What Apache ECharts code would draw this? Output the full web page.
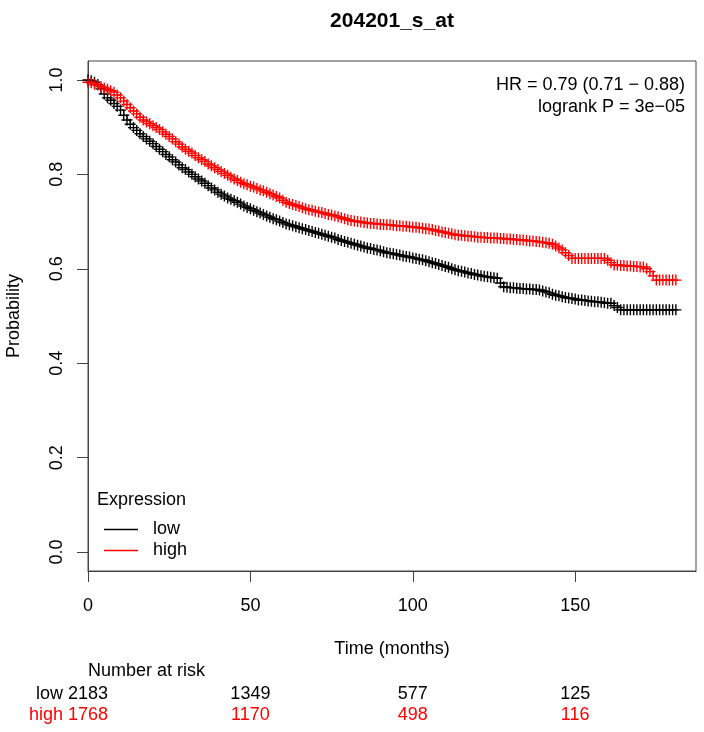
<!DOCTYPE html>
<html>
<head>
<meta charset="utf-8">
<script src="https://cdn.jsdelivr.net/npm/echarts@6/dist/echarts.min.js"></script>
<style>
html,body{margin:0;padding:0;background:#fff;}
#chart{width:704px;height:732px;}
</style>
</head>
<body>
<div id="chart"></div>
<script>
const chartTitle = '204201_s_at';
const groupNames = ['low', 'high'];
const groupColors = ['#000000', '#ff0000'];
const xTicks = [0, 50, 100, 150];
const yTicks = [0, 0.2, 0.4, 0.6, 0.8, 1.0];
const statLines = ['HR = 0.79 (0.71 \u2212 0.88)', 'logrank P = 3e\u221205'];
const riskTimes = [0, 50, 100, 150];
const riskLow = [2183, 1349, 577, 125];
const riskHigh = [1768, 1170, 498, 116];

const months = [0,1,2,3,4,5,6,7,8,9,10,11,12,13,14,15,16,17,18,19,20,21,22,23,24,25,26,27,28,29,
30,31,32,33,34,35,36,37,38,39,40,41,42,43,44,45,46,47,48,49,50,51,52,53,54,55,56,57,58,59,
60,61,62,63,64,65,66,67,68,69,70,71,72,73,74,75,76,77,78,79,80,81,82,83,84,85,86,87,88,89,
90,91,92,93,94,95,96,97,98,99,100,101,102,103,104,105,106,107,108,109,110,111,112,113,114,115,116,117,118,119,
120,121,122,123,124,125,126,127,128,129,130,131,132,133,134,135,136,137,138,139,140,141,142,143,144,145,146,147,148,149,
150,151,152,153,154,155,156,157,158,159,160,161,162,163,164,165,166,167,168,169,170,171,172,173,174,175,176,177,178,179,180,181];

const lowSurv = [
1.000,0.998,0.995,0.990,0.981,0.970,0.962,0.957,0.950,0.944,
0.936,0.925,0.915,0.906,0.899,0.893,0.886,0.880,0.875,0.870,
0.865,0.859,0.853,0.848,0.842,0.837,0.831,0.826,0.820,0.814,
0.810,0.805,0.800,0.795,0.790,0.786,0.781,0.776,0.771,0.767,
0.762,0.758,0.754,0.750,0.747,0.744,0.741,0.737,0.733,0.730,
0.727,0.724,0.721,0.718,0.715,0.712,0.709,0.706,0.704,0.701,
0.698,0.695,0.693,0.691,0.689,0.687,0.685,0.683,0.681,0.679,
0.677,0.675,0.673,0.671,0.669,0.667,0.665,0.662,0.660,0.658,
0.656,0.654,0.652,0.650,0.648,0.646,0.644,0.643,0.641,0.640,
0.638,0.636,0.634,0.633,0.632,0.630,0.629,0.627,0.626,0.625,
0.623,0.622,0.620,0.619,0.617,0.615,0.613,0.611,0.609,0.607,
0.605,0.603,0.600,0.598,0.596,0.595,0.593,0.591,0.590,0.588,
0.587,0.585,0.584,0.583,0.582,0.581,0.580,0.570,0.562,0.561,
0.560,0.560,0.559,0.558,0.558,0.557,0.557,0.556,0.556,0.555,
0.553,0.551,0.549,0.546,0.544,0.543,0.541,0.539,0.538,0.537,
0.536,0.534,0.534,0.533,0.532,0.531,0.530,0.530,0.529,0.528,
0.527,0.527,0.522,0.518,0.513,0.513,0.513,0.513,0.513,0.513,
0.513,0.513,0.513,0.513,0.513,0.513,0.513,0.513,0.513,0.513,
0.513,0.513];

const highSurv = [
0.995,0.994,0.991,0.989,0.986,0.983,0.980,0.977,0.974,0.968,
0.962,0.955,0.948,0.941,0.934,0.928,0.921,0.915,0.911,0.907,
0.903,0.899,0.895,0.890,0.885,0.880,0.875,0.869,0.864,0.858,
0.853,0.849,0.845,0.840,0.835,0.831,0.827,0.822,0.818,0.814,
0.810,0.806,0.802,0.798,0.794,0.790,0.787,0.783,0.780,0.778,
0.775,0.773,0.770,0.767,0.765,0.762,0.759,0.756,0.753,0.750,
0.745,0.741,0.738,0.736,0.734,0.732,0.729,0.727,0.725,0.724,
0.722,0.720,0.719,0.717,0.715,0.714,0.712,0.710,0.708,0.706,
0.704,0.702,0.701,0.700,0.699,0.698,0.697,0.696,0.696,0.695,
0.694,0.694,0.693,0.693,0.692,0.691,0.691,0.690,0.690,0.689,
0.688,0.688,0.687,0.686,0.685,0.684,0.683,0.681,0.680,0.678,
0.677,0.675,0.674,0.672,0.671,0.671,0.670,0.669,0.669,0.668,
0.667,0.667,0.666,0.666,0.665,0.665,0.665,0.664,0.664,0.663,
0.663,0.662,0.662,0.661,0.661,0.660,0.659,0.659,0.658,0.657,
0.656,0.655,0.654,0.652,0.648,0.644,0.640,0.634,0.628,0.622,
0.622,0.622,0.622,0.622,0.622,0.622,0.622,0.622,0.622,0.622,
0.618,0.613,0.608,0.608,0.607,0.607,0.606,0.606,0.605,0.605,
0.604,0.604,0.600,0.594,0.585,0.576,0.576,0.576,0.576,0.576,
0.576,0.576];

const FONT = '"Liberation Sans", Arial, Helvetica, sans-serif';
const PLUS = 'path://M4.8,0H6.2V4.8H11V6.2H6.2V11H4.8V6.2H0V4.8H4.8Z';

const chart = echarts.init(document.getElementById('chart'), null, {renderer: 'canvas'});

function kmSeries(name, surv, color) {
  return {
    name: name,
    type: 'line',
    step: 'end',
    data: months.map((t, i) => [t, surv[i]]),
    color: color,
    lineStyle: {color: color, width: 1},
    itemStyle: {color: color},
    symbol: PLUS,
    symbolSize: 11,
    showSymbol: true,
    showAllSymbol: true,
    emphasis: {disabled: true},
    z: name === 'high' ? 3 : 2
  };
}

const option = {
  animation: false,
  backgroundColor: '#ffffff',
  textStyle: {fontFamily: FONT},
  title: {
    text: chartTitle,
    left: 387,
    top: 6,
    textAlign: 'center',
    textStyle: {fontFamily: FONT, fontSize: 21, fontWeight: 'bold', color: '#000'}
  },
  grid: {
    left: 88, top: 61, width: 608, height: 510,
    outerBoundsMode: 'none',
    containLabel: false,
    show: true, borderColor: '#444', borderWidth: 1, backgroundColor: 'transparent'
  },
  xAxis: {
    type: 'value',
    min: 0, max: 187.2,
    name: 'Time (months)',
    nameLocation: 'middle',
    nameGap: 69,
    nameTextStyle: {fontFamily: FONT, fontSize: 18, color: '#000'},
    axisLine: {show: true, onZero: false, lineStyle: {color: '#444', width: 1}},
    axisTick: {show: true, inside: false, length: 11, customValues: xTicks, lineStyle: {color: '#444'}},
    axisLabel: {show: true, customValues: xTicks, margin: 26, fontFamily: FONT, fontSize: 18, color: '#000'},
    splitLine: {show: false}
  },
  yAxis: {
    type: 'value',
    min: -0.04, max: 1.04,
    name: 'Probability',
    nameLocation: 'middle',
    nameGap: 65,
    nameRotate: 90,
    nameTextStyle: {fontFamily: FONT, fontSize: 18, color: '#000'},
    axisLine: {show: true, onZero: false, lineStyle: {color: '#444', width: 1}},
    axisTick: {show: true, inside: false, length: 11, customValues: yTicks, lineStyle: {color: '#444'}},
    axisLabel: {
      show: true, customValues: yTicks, rotate: 90, margin: 22,
      fontFamily: FONT, fontSize: 18, color: '#000',
      formatter: v => v.toFixed(1)
    },
    splitLine: {show: false}
  },
  legend: {
    data: groupNames.map((n, i) => ({name: n, itemStyle: {color: groupColors[i]}})),
    orient: 'vertical',
    left: 99,
    top: 514,
    icon: 'rect',
    itemWidth: 34,
    itemHeight: 1.5,
    itemGap: 0,
    selectedMode: false,
    textStyle: {fontFamily: FONT, fontSize: 18, color: '#000', lineHeight: 21, padding: [0, 0, 0, 10]}
  },
  series: [
    kmSeries(groupNames[0], lowSurv, groupColors[0]),
    kmSeries(groupNames[1], highSurv, groupColors[1])
  ]
};
chart.setOption(option);

const graphics = [];
graphics.push({type: 'text', x: 685, y: 85, style: {text: statLines[0], fontFamily: FONT, fontSize: 18, fill: '#000', align: 'right', verticalAlign: 'middle'}});
graphics.push({type: 'text', x: 685, y: 107, style: {text: statLines[1], fontFamily: FONT, fontSize: 18, fill: '#000', align: 'right', verticalAlign: 'middle'}});
graphics.push({type: 'text', x: 97, y: 500, style: {text: 'Expression', fontFamily: FONT, fontSize: 18, fill: '#000', align: 'left', verticalAlign: 'middle'}});
graphics.push({type: 'text', x: 88, y: 671, style: {text: 'Number at risk', fontFamily: FONT, fontSize: 18, fill: '#000', align: 'left', verticalAlign: 'middle'}});
graphics.push({type: 'text', x: 63, y: 694, style: {text: groupNames[0], fontFamily: FONT, fontSize: 18, fill: groupColors[0], align: 'right', verticalAlign: 'middle'}});
graphics.push({type: 'text', x: 63, y: 715, style: {text: groupNames[1], fontFamily: FONT, fontSize: 18, fill: groupColors[1], align: 'right', verticalAlign: 'middle'}});
riskTimes.forEach((t, i) => {
  const px = chart.convertToPixel({xAxisIndex: 0}, t);
  graphics.push({type: 'text', x: px, y: 694, style: {text: String(riskLow[i]), fontFamily: FONT, fontSize: 18, fill: groupColors[0], align: 'center', verticalAlign: 'middle'}});
  graphics.push({type: 'text', x: px, y: 715, style: {text: String(riskHigh[i]), fontFamily: FONT, fontSize: 18, fill: groupColors[1], align: 'center', verticalAlign: 'middle'}});
});
chart.setOption({graphic: graphics});
</script>
</body>
</html>
